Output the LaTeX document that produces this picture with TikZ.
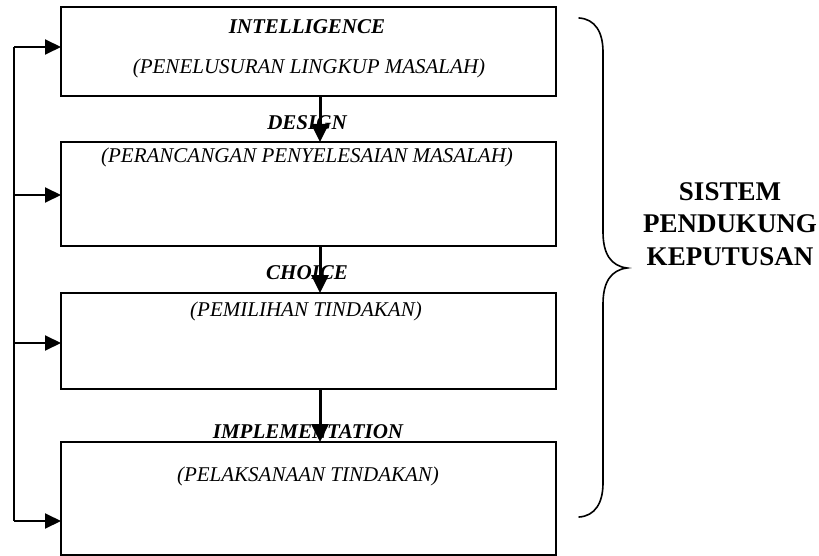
\documentclass[tikz,border=0pt]{standalone}
\usepackage{fontspec}
\setmainfont{Liberation Serif}
\usetikzlibrary{arrows.meta}
\begin{document}
\begin{tikzpicture}[x=1pt,y=-1pt,
  stage/.style={draw,line width=2pt,minimum width=495pt,inner sep=0pt,outer sep=0pt},
  title/.style={font=\fontsize{21}{25}\selectfont\bfseries\itshape,inner sep=0pt},
  sub/.style={font=\fontsize{21}{25}\selectfont\itshape,inner sep=0pt},
  feed/.style={line width=2pt,-{Triangle[length=16pt,width=15pt]}},
  flow/.style={line width=3pt,-{Triangle[length=18pt,width=17pt]}},
  rail/.style={line width=2pt},
  bracket/.style={line width=1.6pt,line cap=round},
  side/.style={font=\fontsize{27}{32.5}\selectfont\bfseries,align=center,inner sep=0pt}]
\useasboundingbox (0,0) rectangle (819,556);

% four stage boxes
\node[stage,minimum height=89pt]  (b1) at (308.5,51.5) {};
\node[stage,minimum height=104pt] (b2) at (308.5,194) {};
\node[stage,minimum height=96pt]  (b3) at (308.5,341) {};
\node[stage,minimum height=113pt] (b4) at (308.5,498.5) {};

% stage names and descriptions
\node[title] (t1) at (307,27)  {INTELLIGENCE};
\node[sub]   (s1) at (309,68)  {(PENELUSURAN LINGKUP MASALAH)};
\node[title] (t2) at (307,123) {DESIGN};
\node[sub]   (s2) at (307,157) {(PERANCANGAN PENYELESAIAN MASALAH)};
\node[title] (t3) at (307,273) {CHOICE};
\node[sub]   (s3) at (306,311) {(PEMILIHAN TINDAKAN)};
\node[title] (t4) at (308,432) {IMPLEMENTATION};
\node[sub]   (s4) at (308,476) {(PELAKSANAAN TINDAKAN)};

% downward flow between stages
\coordinate (fx) at (320,0);
\draw[flow] (b1.south -| fx) -- (b2.north -| fx);
\draw[flow] (b2.south -| fx) -- (b3.north -| fx);
\draw[flow] (b3.south -| fx) -- (b4.north -| fx);

% feedback rail on the left
\coordinate (j1) at (14,47);
\coordinate (j2) at (14,195);
\coordinate (j3) at (14,343);
\coordinate (j4) at (14,521);
\draw[rail] (j1) -- (j4);
\draw[feed] (j1) -- (b1.west |- j1);
\draw[feed] (j2) -- (b2.west |- j2);
\draw[feed] (j3) -- (b3.west |- j3);
\draw[feed] (j4) -- (b4.west |- j4);

% curly bracket grouping all stages
\draw[bracket] (579,18) .. controls (595,19) and (603,32) .. (603,52)
  -- (603,232) .. controls (603,254) and (611,266) .. (627,268)
  .. controls (611,270) and (603,282) .. (603,304)
  -- (603,483) .. controls (603,503) and (595,516) .. (579,517);

\node[side] (dss) at (730,224) {SISTEM\\PENDUKUNG\\KEPUTUSAN};
\end{tikzpicture}
\end{document}
